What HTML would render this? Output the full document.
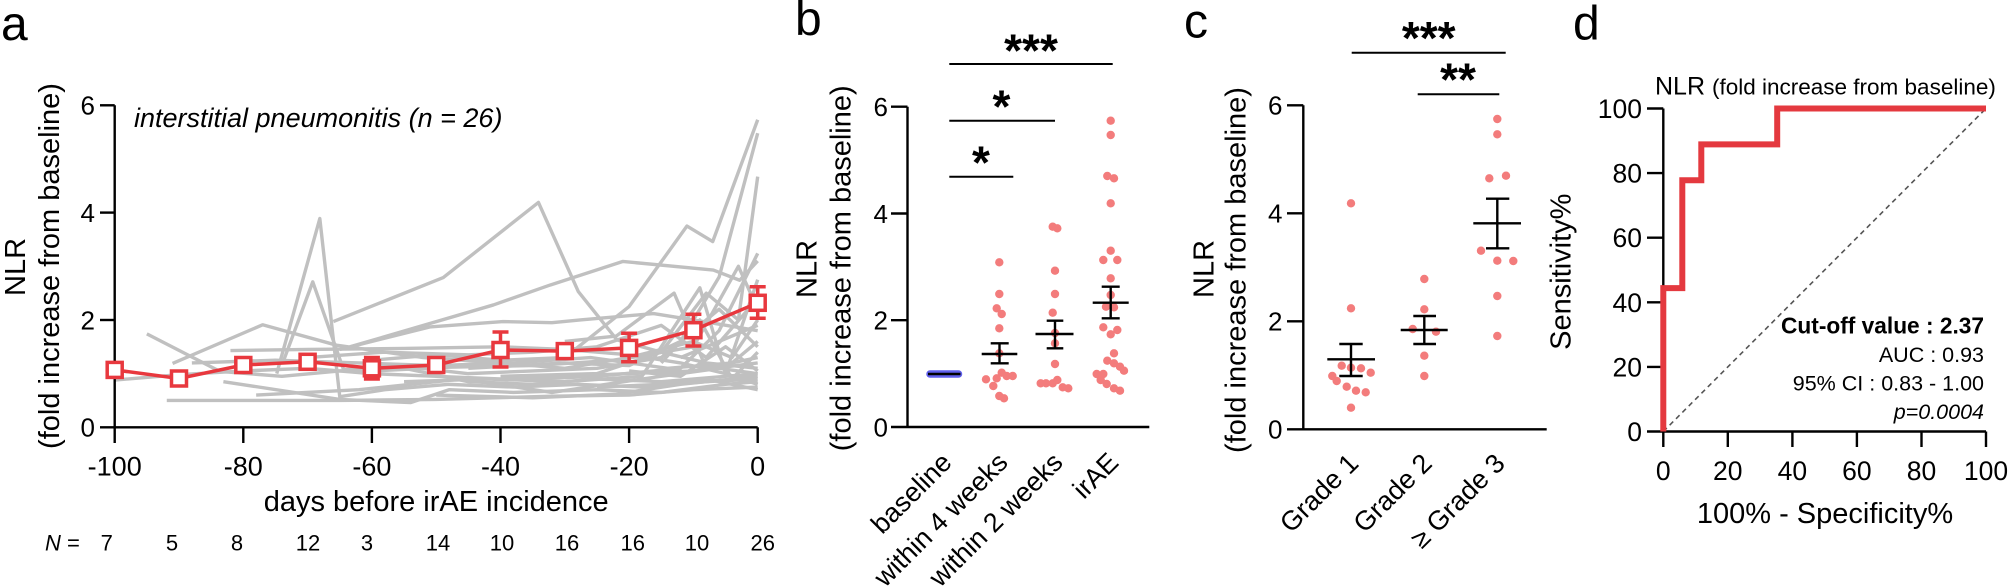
<!DOCTYPE html>
<html><head><meta charset="utf-8"><style>
html,body{margin:0;padding:0;background:#fff;}
svg{display:block;}
text{font-family:"Liberation Sans",Arial,sans-serif;fill:#000;}
</style></head><body>
<svg width="2010" height="588" viewBox="0 0 2010 588" xmlns="http://www.w3.org/2000/svg">
<rect width="2010" height="588" fill="#fff"/>

<!-- ================= PANEL A ================= -->
<text x="1" y="40" font-size="48">a</text>
<text transform="translate(25,267) rotate(-90)" text-anchor="middle" font-size="29">NLR</text>
<text transform="translate(59,266) rotate(-90)" text-anchor="middle" font-size="29">(fold increase from baseline)</text>
<text x="134" y="127" font-size="27" font-style="italic">interstitial pneumonitis (n = 26)</text>

<!-- gray lines -->
<g transform="translate(757.7,427.3) scale(6.43,-53.67)" fill="none" stroke="#c0c0c0" stroke-width="3.4" stroke-linejoin="round">
<polyline vector-effect="non-scaling-stroke" points="-100,0.88 -90,0.98 -80,1.05 -70,1.1 -60,1.0 -50,0.95 -40,0.9 -30,0.95 -20,1.0 -10,1.05 0,1.2"/>
<polyline vector-effect="non-scaling-stroke" points="-95,1.74 -83.6,1.04 -74,0.95 -65,1.05 -55,1.1 -45,0.85 -35,0.8 -25,0.9 -15,0.85 -5,0.95 0,1.0"/>
<polyline vector-effect="non-scaling-stroke" points="-91,1.19 -77,1.91 -65.5,1.53 -52,1.3 -40,1.2 -30,1.1 -20,1.3 -10,1.6 -4,1.3 0,2.0"/>
<polyline vector-effect="non-scaling-stroke" points="-74.8,1.0 -68.1,3.89 -65,0.57 -58,0.7 -48,0.8 -38,0.75 -28,0.8 -18,0.75 -8,0.85 0,0.9"/>
<polyline vector-effect="non-scaling-stroke" points="-73.8,1.22 -69.2,2.71 -64.4,1.07 -56,1.15 -45,1.0 -35,1.05 -25,1.1 -15,1.3 -6,2.2 0,1.5"/>
<polyline vector-effect="non-scaling-stroke" points="-66,1.97 -48.9,2.79 -34.1,4.19 -27.9,2.53 -21.9,1.63 -15,1.4 -8,1.2 0,1.1"/>
<polyline vector-effect="non-scaling-stroke" points="-63.4,1.5 -41.1,2.28 -32.3,2.65 -21,3.09 -6.9,2.93 -2.8,2.74 0,3.1"/>
<polyline vector-effect="non-scaling-stroke" points="-65,1.45 -51,1.87 -39.6,1.97 -32,1.95 -27.6,2.0 -16.2,2.12 -6.9,1.94 0,1.8"/>
<polyline vector-effect="non-scaling-stroke" points="-82,1.43 -70,1.45 -55,1.47 -40,1.5 -30,1.45 -20,1.35 -12,1.2 -5,1.0 0,0.8"/>
<polyline vector-effect="non-scaling-stroke" points="-91.9,0.5 -75,0.5 -65,0.5 -50,0.52 -32,0.58 -20,0.6 -10,0.7 0,0.75"/>
<polyline vector-effect="non-scaling-stroke" points="-83.1,0.85 -65,0.52 -54,0.46 -48,0.7 -38,0.65 -25,0.7 -15,0.65 -5,0.8 0,0.85"/>
<polyline vector-effect="non-scaling-stroke" points="-60,1.25 -50,1.35 -40,1.25 -30,1.3 -20,2.25 -11,3.75 -7,3.46 0,5.73"/>
<polyline vector-effect="non-scaling-stroke" points="-45,1.1 -30,1.2 -20,1.15 -12,1.6 -6,2.8 0,5.48"/>
<polyline vector-effect="non-scaling-stroke" points="-40,0.95 -25,1.0 -15,1.4 -8,2.5 -3,2.0 0,4.67"/>
<polyline vector-effect="non-scaling-stroke" points="-35,0.9 -25,0.95 -12,1.1 -6,1.8 0,3.24"/>
<polyline vector-effect="non-scaling-stroke" points="-55,0.85 -42,0.9 -30,0.85 -18,0.95 -9,2.6 -5,1.0 0,2.75"/>
<polyline vector-effect="non-scaling-stroke" points="-30,1.6 -22,1.7 -13,2.5 -8,1.1 0,1.3"/>
<polyline vector-effect="non-scaling-stroke" points="-25,0.75 -15,0.8 -8,0.9 0,0.7"/>
<polyline vector-effect="non-scaling-stroke" points="-20,1.05 -12,0.95 -5,1.5 0,1.05"/>
<polyline vector-effect="non-scaling-stroke" points="-15,1.2 -9,2.0 -4,0.9 0,1.4"/>
<polyline vector-effect="non-scaling-stroke" points="-50,0.6 -35,0.55 -22,0.62 -12,0.8 0,0.95"/>
<polyline vector-effect="non-scaling-stroke" points="-70,1.3 -58,1.4 -45,1.35 -35,1.4 -25,1.5 -15,1.9 -8,1.3 0,2.4"/>
<polyline vector-effect="non-scaling-stroke" points="-88,1.2 -75,1.25 -62,1.2 -50,1.15 -38,1.2 -26,1.3 -14,1.1 -4,1.2 0,1.6"/>
<polyline vector-effect="non-scaling-stroke" points="-60,1.05 -48,1.12 -35,1.15 -22,1.25 -10,1.5 -3,3.0 0,2.2"/>
<polyline vector-effect="non-scaling-stroke" points="-12,1.3 -6,1.6 0,1.9"/>
<polyline vector-effect="non-scaling-stroke" points="-78,0.6 -62,0.7 -46,0.9 -32,0.65 -18,0.9 -6,1.1 0,1.0"/>
</g>

<!-- axes a -->
<g stroke="#000" stroke-width="2.4" fill="none">
<line x1="114.7" y1="105.3" x2="114.7" y2="427.3"/>
<line x1="100" y1="427.3" x2="757.7" y2="427.3"/>
<line x1="100" y1="105.3" x2="114.7" y2="105.3"/>
<line x1="100" y1="212.6" x2="114.7" y2="212.6"/>
<line x1="100" y1="320" x2="114.7" y2="320"/>
<line x1="114.7" y1="427.3" x2="114.7" y2="443"/>
<line x1="243.3" y1="427.3" x2="243.3" y2="443"/>
<line x1="371.9" y1="427.3" x2="371.9" y2="443"/>
<line x1="500.5" y1="427.3" x2="500.5" y2="443"/>
<line x1="629.1" y1="427.3" x2="629.1" y2="443"/>
<line x1="757.7" y1="427.3" x2="757.7" y2="443"/>
</g>
<g font-size="26" text-anchor="end">
<text x="95" y="114.7">6</text>
<text x="95" y="222">4</text>
<text x="95" y="329.4">2</text>
<text x="95" y="436.7">0</text>
</g>
<g font-size="27" text-anchor="middle">
<text x="114.7" y="475.5">-100</text>
<text x="243.3" y="475.5">-80</text>
<text x="371.9" y="475.5">-60</text>
<text x="500.5" y="475.5">-40</text>
<text x="629.1" y="475.5">-20</text>
<text x="757.7" y="475.5">0</text>
</g>
<text x="436.2" y="511" font-size="29" text-anchor="middle">days before irAE incidence</text>
<text x="45" y="550.5" font-size="22"><tspan font-style="italic">N</tspan> =</text>
<g font-size="22" text-anchor="middle">
<text x="106.8" y="550.5">7</text>
<text x="172" y="550.5">5</text>
<text x="237" y="550.5">8</text>
<text x="308" y="550.5">12</text>
<text x="367" y="550.5">3</text>
<text x="438" y="550.5">14</text>
<text x="502" y="550.5">10</text>
<text x="567" y="550.5">16</text>
<text x="632.7" y="550.5">16</text>
<text x="697" y="550.5">10</text>
<text x="762.7" y="550.5">26</text>
</g>

<!-- red mean series -->
<g stroke="#e8383e" stroke-width="3.5" fill="none">
<polyline points="114.7,369.9 179,378.5 243.3,365 307.6,361.8 371.9,368.3 436.2,365 500.5,350 564.8,351.1 629.1,347.9 693.4,330.2 757.7,302.8"/>
<line x1="500.5" y1="332" x2="500.5" y2="367"/><line x1="492.5" y1="332" x2="508.5" y2="332"/><line x1="492.5" y1="367" x2="508.5" y2="367"/>
<line x1="629.1" y1="333.3" x2="629.1" y2="361.7"/><line x1="621.1" y1="333.3" x2="637.1" y2="333.3"/><line x1="621.1" y1="361.7" x2="637.1" y2="361.7"/>
<line x1="693.4" y1="314.3" x2="693.4" y2="346"/><line x1="685.4" y1="314.3" x2="701.4" y2="314.3"/><line x1="685.4" y1="346" x2="701.4" y2="346"/>
<line x1="757.7" y1="286.7" x2="757.7" y2="318.3"/><line x1="749.7" y1="286.7" x2="765.7" y2="286.7"/><line x1="749.7" y1="318.3" x2="765.7" y2="318.3"/>
<line x1="371.9" y1="357.5" x2="371.9" y2="379"/><line x1="363.9" y1="357.5" x2="379.9" y2="357.5"/><line x1="363.9" y1="379" x2="379.9" y2="379"/>
<line x1="307.6" y1="355" x2="307.6" y2="368.5"/><line x1="299.6" y1="355" x2="315.6" y2="355"/><line x1="299.6" y1="368.5" x2="315.6" y2="368.5"/>
</g>
<g stroke="#e8383e" stroke-width="3.5" fill="#fff">
<rect x="107.2" y="362.4" width="15" height="15"/>
<rect x="171.5" y="371" width="15" height="15"/>
<rect x="235.8" y="357.5" width="15" height="15"/>
<rect x="300.1" y="354.3" width="15" height="15"/>
<rect x="364.4" y="360.8" width="15" height="15"/>
<rect x="428.7" y="357.5" width="15" height="15"/>
<rect x="493" y="342.5" width="15" height="15"/>
<rect x="557.3" y="343.6" width="15" height="15"/>
<rect x="621.6" y="340.4" width="15" height="15"/>
<rect x="685.9" y="322.7" width="15" height="15"/>
<rect x="750.2" y="295.3" width="15" height="15"/>
</g>

<!-- ================= PANEL B ================= -->
<text x="795" y="35" font-size="48">b</text>
<text transform="translate(816.7,269) rotate(-90)" text-anchor="middle" font-size="29">NLR</text>
<text transform="translate(850.5,268.3) rotate(-90)" text-anchor="middle" font-size="29">(fold increase from baseline)</text>
<g stroke="#000" stroke-width="2.4" fill="none">
<line x1="907.5" y1="106.7" x2="907.5" y2="427"/>
<line x1="891" y1="427" x2="1149.3" y2="427"/>
<line x1="891" y1="106.7" x2="907.5" y2="106.7"/>
<line x1="891" y1="213.5" x2="907.5" y2="213.5"/>
<line x1="891" y1="320.2" x2="907.5" y2="320.2"/>
</g>
<g font-size="26" text-anchor="end">
<text x="888" y="116">6</text>
<text x="888" y="222.9">4</text>
<text x="888" y="329.6">2</text>
<text x="888" y="436.4">0</text>
</g>
<!-- significance b -->
<g stroke="#000" stroke-width="2">
<line x1="949.3" y1="64" x2="1112.7" y2="64"/>
<line x1="949.3" y1="120.7" x2="1055" y2="120.7"/>
<line x1="949.3" y1="176.7" x2="1013.3" y2="176.7"/>
</g>
<g font-size="46" font-weight="bold" text-anchor="middle">
<text x="1031" y="66.7">***</text>
<text x="1001.5" y="122.7">*</text>
<text x="981" y="178.4">*</text>
</g>
<!-- dots b -->
<g fill="#f37c7c">
<circle cx="999.3" cy="262.3" r="4.2"/><circle cx="999.3" cy="294" r="4.2"/><circle cx="996.7" cy="308.3" r="4.2"/><circle cx="1001.7" cy="314" r="4.2"/><circle cx="999.3" cy="328.3" r="4.2"/><circle cx="999.3" cy="353.3" r="4.2"/><circle cx="986" cy="379.3" r="4.2"/><circle cx="996.7" cy="378.3" r="4.2"/><circle cx="1001.7" cy="372.7" r="4.2"/><circle cx="1006.7" cy="376" r="4.2"/><circle cx="1012.7" cy="376" r="4.2"/><circle cx="993.3" cy="386" r="4.2"/><circle cx="999.3" cy="396" r="4.2"/><circle cx="1004" cy="398.3" r="4.2"/>
<circle cx="1052.7" cy="226.7" r="4.2"/><circle cx="1057.3" cy="228.3" r="4.2"/><circle cx="1055" cy="270.7" r="4.2"/><circle cx="1055" cy="294" r="4.2"/><circle cx="1052.7" cy="312.7" r="4.2"/><circle cx="1055" cy="333" r="4.2"/><circle cx="1055" cy="343.3" r="4.2"/><circle cx="1055" cy="364" r="4.2"/><circle cx="1040.7" cy="383.3" r="4.2"/><circle cx="1046" cy="383.3" r="4.2"/><circle cx="1052.7" cy="383.3" r="4.2"/><circle cx="1057.3" cy="380" r="4.2"/><circle cx="1062.7" cy="387.3" r="4.2"/><circle cx="1068.3" cy="388.3" r="4.2"/>
<circle cx="1110.7" cy="120.7" r="4.2"/><circle cx="1110.7" cy="135" r="4.2"/><circle cx="1107.3" cy="176" r="4.2"/><circle cx="1114" cy="178.3" r="4.2"/><circle cx="1110.7" cy="203.3" r="4.2"/><circle cx="1110.7" cy="250.7" r="4.2"/><circle cx="1103.3" cy="260" r="4.2"/><circle cx="1117.3" cy="260" r="4.2"/><circle cx="1110.7" cy="278.3" r="4.2"/><circle cx="1110.7" cy="295" r="4.2"/><circle cx="1106" cy="306.7" r="4.2"/><circle cx="1114" cy="307.3" r="4.2"/><circle cx="1103.3" cy="327.3" r="4.2"/><circle cx="1117.3" cy="330" r="4.2"/><circle cx="1110.7" cy="334.3" r="4.2"/><circle cx="1114" cy="353.3" r="4.2"/><circle cx="1107.3" cy="360.7" r="4.2"/><circle cx="1114" cy="363.3" r="4.2"/><circle cx="1120" cy="366.7" r="4.2"/><circle cx="1124" cy="370.7" r="4.2"/><circle cx="1096.7" cy="374" r="4.2"/><circle cx="1103.3" cy="374" r="4.2"/><circle cx="1100.7" cy="380" r="4.2"/><circle cx="1106.7" cy="384" r="4.2"/><circle cx="1114" cy="388.3" r="4.2"/><circle cx="1120" cy="390.7" r="4.2"/>
</g>
<!-- baseline blue -->
<line x1="930" y1="374" x2="958.5" y2="374" stroke="#5f5fec" stroke-width="7.5" stroke-linecap="round"/>
<g stroke="#000" stroke-width="2.4">
<line x1="928" y1="374" x2="960.5" y2="374"/>
<line x1="981.7" y1="354" x2="1017.3" y2="354"/><line x1="999.5" y1="343.3" x2="999.5" y2="363.3"/><line x1="990.7" y1="343.3" x2="1008.7" y2="343.3"/><line x1="990.7" y1="363.3" x2="1008.7" y2="363.3"/>
<line x1="1035.5" y1="334" x2="1073.5" y2="334"/><line x1="1055" y1="320.7" x2="1055" y2="348.3"/><line x1="1046.7" y1="320.7" x2="1063.3" y2="320.7"/><line x1="1046.7" y1="348.3" x2="1063.3" y2="348.3"/>
<line x1="1092.7" y1="302.7" x2="1128.7" y2="302.7"/><line x1="1110.7" y1="286.7" x2="1110.7" y2="318.3"/><line x1="1101.7" y1="286.7" x2="1119.7" y2="286.7"/><line x1="1101.7" y1="318.3" x2="1119.7" y2="318.3"/>
</g>
<g font-size="27" text-anchor="end">
<text transform="translate(953.3,464) rotate(-45)">baseline</text>
<text transform="translate(1009.3,464) rotate(-45)">within 4 weeks</text>
<text transform="translate(1064.3,464) rotate(-45)">within 2 weeks</text>
<text transform="translate(1120,464) rotate(-45)">irAE</text>
</g>

<!-- ================= PANEL C ================= -->
<text x="1184" y="37.3" font-size="48">c</text>
<text transform="translate(1213.3,269) rotate(-90)" text-anchor="middle" font-size="29">NLR</text>
<text transform="translate(1245.5,270) rotate(-90)" text-anchor="middle" font-size="29">(fold increase from baseline)</text>
<g stroke="#000" stroke-width="2.4" fill="none">
<line x1="1303.3" y1="105.3" x2="1303.3" y2="429.3"/>
<line x1="1287" y1="429.3" x2="1546.7" y2="429.3"/>
<line x1="1287" y1="105.3" x2="1303.3" y2="105.3"/>
<line x1="1287" y1="213.3" x2="1303.3" y2="213.3"/>
<line x1="1287" y1="321.3" x2="1303.3" y2="321.3"/>
</g>
<g font-size="26" text-anchor="end">
<text x="1282.5" y="114.7">6</text>
<text x="1282.5" y="222.7">4</text>
<text x="1282.5" y="330.7">2</text>
<text x="1282.5" y="438.7">0</text>
</g>
<g stroke="#000" stroke-width="2">
<line x1="1351.7" y1="52.7" x2="1505.7" y2="52.7"/>
<line x1="1417.7" y1="94.3" x2="1499.3" y2="94.3"/>
</g>
<g font-size="46" font-weight="bold" text-anchor="middle">
<text x="1428.7" y="54.2">***</text>
<text x="1458" y="95.7">**</text>
</g>
<g fill="#f37c7c">
<circle cx="1351" cy="203.3" r="4.2"/><circle cx="1351" cy="308.3" r="4.2"/><circle cx="1341.7" cy="365.7" r="4.2"/><circle cx="1351" cy="367.7" r="4.2"/><circle cx="1361" cy="368.3" r="4.2"/><circle cx="1332.3" cy="376" r="4.2"/><circle cx="1370.7" cy="372.7" r="4.2"/><circle cx="1336.7" cy="381" r="4.2"/><circle cx="1346.7" cy="386.7" r="4.2"/><circle cx="1356" cy="390.7" r="4.2"/><circle cx="1365.7" cy="392.3" r="4.2"/><circle cx="1351" cy="407.7" r="4.2"/>
<circle cx="1424.3" cy="279" r="4.2"/><circle cx="1424.3" cy="309.3" r="4.2"/><circle cx="1412.7" cy="329" r="4.2"/><circle cx="1436" cy="331.7" r="4.2"/><circle cx="1424.3" cy="355.7" r="4.2"/><circle cx="1424.3" cy="376" r="4.2"/>
<circle cx="1497.3" cy="119" r="4.2"/><circle cx="1497.3" cy="134.3" r="4.2"/><circle cx="1489.3" cy="178.3" r="4.2"/><circle cx="1506" cy="175.7" r="4.2"/><circle cx="1481" cy="250.7" r="4.2"/><circle cx="1497.3" cy="260.7" r="4.2"/><circle cx="1513.3" cy="261" r="4.2"/><circle cx="1497.3" cy="296" r="4.2"/><circle cx="1497.3" cy="336" r="4.2"/>
</g>
<g stroke="#000" stroke-width="2.4">
<line x1="1327.3" y1="359.3" x2="1375" y2="359.3"/><line x1="1351" y1="344" x2="1351" y2="376"/><line x1="1339.3" y1="344" x2="1362.7" y2="344"/><line x1="1339.3" y1="376" x2="1362.7" y2="376"/>
<line x1="1400.7" y1="330" x2="1447.7" y2="330"/><line x1="1424.3" y1="316" x2="1424.3" y2="344"/><line x1="1413.3" y1="316" x2="1436" y2="316"/><line x1="1413.3" y1="344" x2="1436" y2="344"/>
<line x1="1473.3" y1="223.3" x2="1521" y2="223.3"/><line x1="1497.3" y1="198.7" x2="1497.3" y2="248.3"/><line x1="1486" y1="198.7" x2="1509.3" y2="198.7"/><line x1="1486" y1="248.3" x2="1509.3" y2="248.3"/>
</g>
<g font-size="27" text-anchor="end">
<text transform="translate(1360,465) rotate(-45)">Grade 1</text>
<text transform="translate(1433.5,465) rotate(-45)">Grade 2</text>
<text transform="translate(1506.5,465) rotate(-45)">≥ Grade 3</text>
</g>

<!-- ================= PANEL D ================= -->
<text x="1573" y="39.3" font-size="48">d</text>
<text x="1655" y="94.5" font-size="25">NLR <tspan font-size="22.5">(fold increase from baseline)</tspan></text>
<text transform="translate(1570.5,271.7) rotate(-90)" text-anchor="middle" font-size="29">Sensitivity%</text>
<line x1="1663.3" y1="431.5" x2="1986" y2="108.5" stroke="#555" stroke-width="1.6" stroke-dasharray="5,4"/>
<g stroke="#000" stroke-width="2.4" fill="none">
<line x1="1663.3" y1="108.5" x2="1663.3" y2="431.5"/>
<line x1="1647" y1="431.5" x2="1986" y2="431.5"/>
<line x1="1647" y1="108.5" x2="1663.3" y2="108.5"/>
<line x1="1647" y1="173.1" x2="1663.3" y2="173.1"/>
<line x1="1647" y1="237.7" x2="1663.3" y2="237.7"/>
<line x1="1647" y1="302.3" x2="1663.3" y2="302.3"/>
<line x1="1647" y1="366.9" x2="1663.3" y2="366.9"/>
<line x1="1663.3" y1="431.5" x2="1663.3" y2="447"/>
<line x1="1727.8" y1="431.5" x2="1727.8" y2="447"/>
<line x1="1792.4" y1="431.5" x2="1792.4" y2="447"/>
<line x1="1856.9" y1="431.5" x2="1856.9" y2="447"/>
<line x1="1921.5" y1="431.5" x2="1921.5" y2="447"/>
<line x1="1986" y1="431.5" x2="1986" y2="447"/>
</g>
<polyline points="1663.3,431.5 1663.3,288.1 1682.3,288.1 1682.3,180.2 1701.3,180.2 1701.3,144.4 1777.2,144.4 1777.2,108.5 1986,108.5" fill="none" stroke="#e4393f" stroke-width="6" stroke-linejoin="miter"/>
<g font-size="26.5" text-anchor="end">
<text x="1642" y="118">100</text>
<text x="1642" y="182.6">80</text>
<text x="1642" y="247.2">60</text>
<text x="1642" y="311.8">40</text>
<text x="1642" y="376.4">20</text>
<text x="1642" y="441">0</text>
</g>
<g font-size="26.5" text-anchor="middle">
<text x="1663.3" y="480">0</text>
<text x="1727.8" y="480">20</text>
<text x="1792.4" y="480">40</text>
<text x="1856.9" y="480">60</text>
<text x="1921.5" y="480">80</text>
<text x="1986" y="480">100</text>
</g>
<text x="1825" y="523" font-size="29" text-anchor="middle">100% - Specificity%</text>
<g text-anchor="end">
<text x="1984" y="333.7" font-size="22.7" font-weight="bold">Cut-off value : 2.37</text>
<text x="1984" y="362" font-size="21.5">AUC : 0.93</text>
<text x="1984" y="390.3" font-size="21.5">95% CI : 0.83 - 1.00</text>
<text x="1984" y="419" font-size="21.5" font-style="italic">p=0.0004</text>
</g>
</svg>
</body></html>
